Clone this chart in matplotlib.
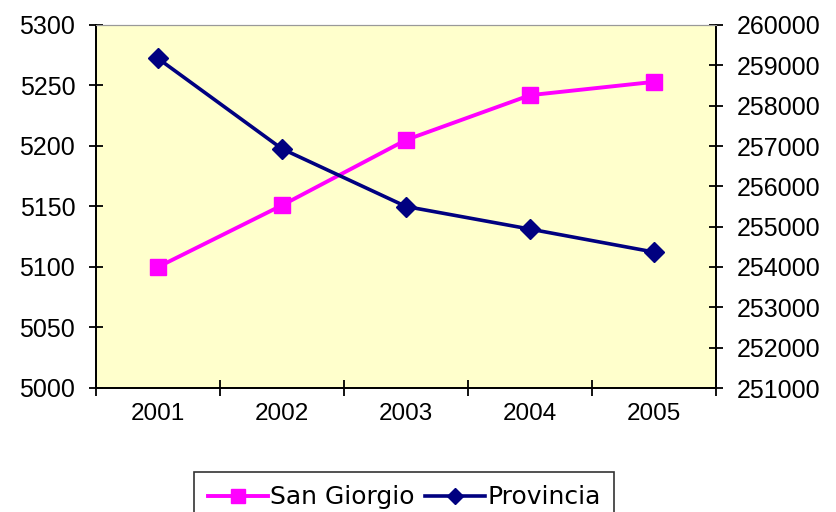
import numpy as np
import matplotlib
matplotlib.use("Agg")
import matplotlib.pyplot as plt

anni = ["2001", "2002", "2003", "2004", "2005"]
san_giorgio = [5100, 5151, 5205, 5242, 5253]
provincia = [259170, 256930, 255500, 254940, 254370]

fig = plt.figure(figsize=(8.37, 5.12), dpi=100)
ax = fig.add_axes([96/837, 1-388/512, (716-96)/837, (388-25)/512])
ax.set_facecolor("#FFFFCC")
ax2 = ax.twinx()

x = np.arange(len(anni))
l1, = ax.plot(x, san_giorgio, color="#FF00FF", lw=2.8, marker="s", ms=12,
              label="San Giorgio", zorder=3)
l2, = ax2.plot(x, provincia, color="#000080", lw=2.6, marker="D", ms=10.5,
               label="Provincia", zorder=3)

ax.set_xlim(-0.5, len(anni) - 0.5)
ax.set_ylim(5000, 5300)
ax.set_yticks(np.arange(5000, 5301, 50))
ax2.set_ylim(251000, 260000)
ax2.set_yticks(np.arange(251000, 260001, 1000))

# tick di categoria ai bordi, etichette al centro
ax.set_xticks(np.arange(-0.5, len(anni), 1.0))
ax.set_xticklabels([])
ax.set_xticks(x, minor=True)
ax.set_xticklabels(anni, minor=True, fontfamily="Liberation Sans", fontsize=17.5)
ax.tick_params(axis="x", which="major", direction="inout", length=12, width=1.3)
ax.tick_params(axis="x", which="minor", length=0, pad=11)

ax.tick_params(axis="y", direction="inout", length=10, width=1.3, pad=10)
ax2.tick_params(axis="y", direction="inout", length=10, width=1.3, pad=10)
for t in ax.get_yticklabels() + ax2.get_yticklabels():
    t.set_fontfamily("Liberation Sans")
    t.set_fontsize(18)

for a in (ax, ax2):
    a.spines["top"].set_color("#999999")
    a.spines["left"].set_linewidth(1.3)
    a.spines["right"].set_linewidth(1.3)
    a.spines["bottom"].set_linewidth(1.3)

leg = fig.legend(handles=[l1, l2], loc="upper center",
                 bbox_to_anchor=(404/837, 1-471.7/512), ncol=2,
                 frameon=True, fancybox=False, edgecolor="black",
                 prop={"family": "DejaVu Sans", "size": 18},
                 handlelength=2.4, handletextpad=0.1, columnspacing=0.4,
                 borderpad=0.55, borderaxespad=0)
leg.get_frame().set_linewidth(1.2)
for h in leg.legend_handles:
    h.set_markersize(h.get_markersize() * 0.8)

fig.savefig("out.png", dpi=100)
